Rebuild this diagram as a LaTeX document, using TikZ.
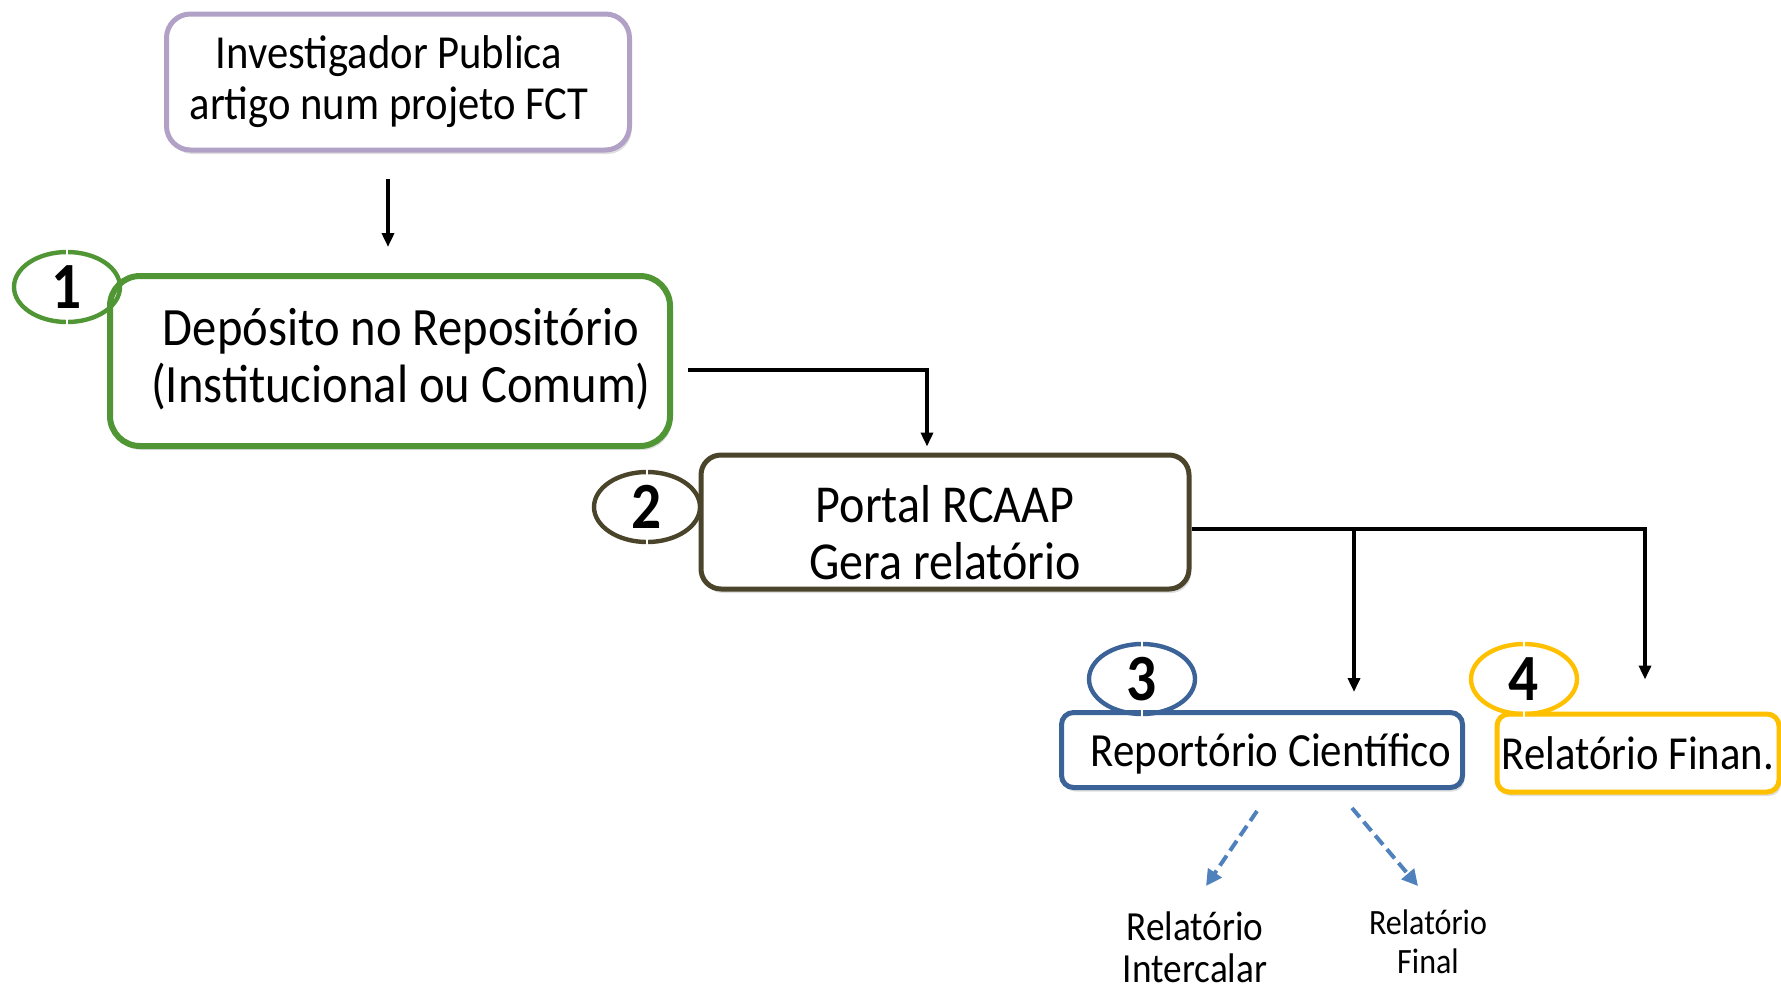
\documentclass[tikz,border=0pt]{standalone}
\usepackage{fontspec}
\setmainfont[FakeStretch=0.9]{Carlito}
\usepackage{tikz}
\usetikzlibrary{shapes.geometric,arrows.meta,shadows}

\definecolor{lilac}{RGB}{178,161,199}
\definecolor{leaf}{RGB}{80,150,52}
\definecolor{olive}{RGB}{74,69,42}
\definecolor{steel}{RGB}{59,99,151}
\definecolor{gold}{RGB}{255,192,0}
\definecolor{dashblue}{RGB}{79,129,189}

\tikzset{
  stage/.style={draw=#1, line width=2.5pt, fill=white, align=center, inner sep=0pt,
    drop shadow={opacity=0.25, shadow xshift=1pt, shadow yshift=-2pt}},
  num/.style={ellipse, draw=#1, line width=2.2pt, minimum width=53pt, minimum height=35pt,
    inner sep=0pt, font=\fontsize{33}{33}\selectfont\bfseries},
  arr/.style={-{Triangle[length=7pt,width=6pt]}, line width=1.9pt},
  sub/.style={-{Triangle[length=8pt,width=8pt]}, dash pattern=on 6pt off 3pt,
    line width=2pt, dashblue},
}

\begin{document}
\begin{tikzpicture}[x=0.5pt, y=-0.5pt]
  \useasboundingbox (0,0) rectangle (1781,986);

  % boxes
  \node[stage=lilac, rounded corners=12pt, minimum width=231.5pt, minimum height=68pt,
    font=\fontsize{23.7}{25.5}\selectfont] (pub) at (398,82)
    {Investigador Publica\hspace*{9pt}\\artigo num projeto FCT\hspace*{9pt}};
  \node[stage=leaf, line width=3pt, rounded corners=15pt, minimum width=280pt, minimum height=85pt,
    font=\fontsize{27}{28.5}\selectfont] (dep) at (390,361)
    {\hspace*{11pt}Depósito no Repositório\\\hspace*{11pt}(Institucional ou Comum)\rule[-6pt]{0pt}{0pt}};
  \node[stage=olive, rounded corners=10pt, minimum width=244pt, minimum height=67pt,
    font=\fontsize{26.7}{28.5}\selectfont] (rcaap) at (945,522) {\rule{0pt}{29pt}Portal RCAAP\\Gera relatório};
  \node[stage=steel, rounded corners=6pt, minimum width=200.5pt, minimum height=37.5pt,
    font=\fontsize{23.8}{25}\selectfont] (cien) at (1262,750) {\hspace*{9pt}\rule{0pt}{20pt}Reportório Científico};
  \node[stage=gold, rounded corners=6pt, minimum width=141pt, minimum height=39pt,
    font=\fontsize{23.7}{25}\selectfont] (finan) at (1638,753) {Relatório Finan.};

  % numbers
  \node[num=leaf] (n1) at (67,287) {1};
  \node[num=olive] (n2) at (647,507) {2};
  \node[num=steel] (n3) at (1142,679) {3};
  \node[num=gold] (n4) at (1524,679) {4};
  \foreach \n in {n1,n2,n3,n4} {
    \draw[white, line width=1pt] ([yshift=4pt]\n.north) -- ([yshift=-4pt]\n.north);
    \draw[white, line width=1pt] ([yshift=4pt]\n.south) -- ([yshift=-4pt]\n.south);
  }

  % reports
  \node[align=center, inner sep=0pt, anchor=north, font=\fontsize{20.7}{21}\selectfont] (inter) at (1195,911) {Relatório\\Intercalar};
  \node[align=center, inner sep=0pt, anchor=north, font=\fontsize{17.8}{19.5}\selectfont] (final) at (1428,909) {Relatório\\Final};

  % connectors
  \draw[arr, shorten <=13pt, shorten >=13pt] ([xshift=-5pt]pub.south) -- ([xshift=-1pt]dep.north);
  \draw[arr, shorten >=3pt] ([shift={(7.5pt,-4.5pt)}]dep.east) -| ([xshift=-9pt]rcaap.north);
  \coordinate (j) at ([yshift=-3.5pt]rcaap.east);
  \draw[arr] (j) -| ([shift={(3.5pt,16pt)}]finan.north);
  \draw[arr] ([xshift=46pt]cien.north |- j) -- ([shift={(46pt,9pt)}]cien.north);
  \draw[sub] ([shift={(-2.5pt,-10.5pt)}]cien.south) -- ([shift={(5.5pt,12.5pt)}]inter.north);
  \draw[sub] ([shift={(45pt,-9pt)}]cien.south) -- ([shift={(-5pt,11.5pt)}]final.north);
\end{tikzpicture}
\end{document}
